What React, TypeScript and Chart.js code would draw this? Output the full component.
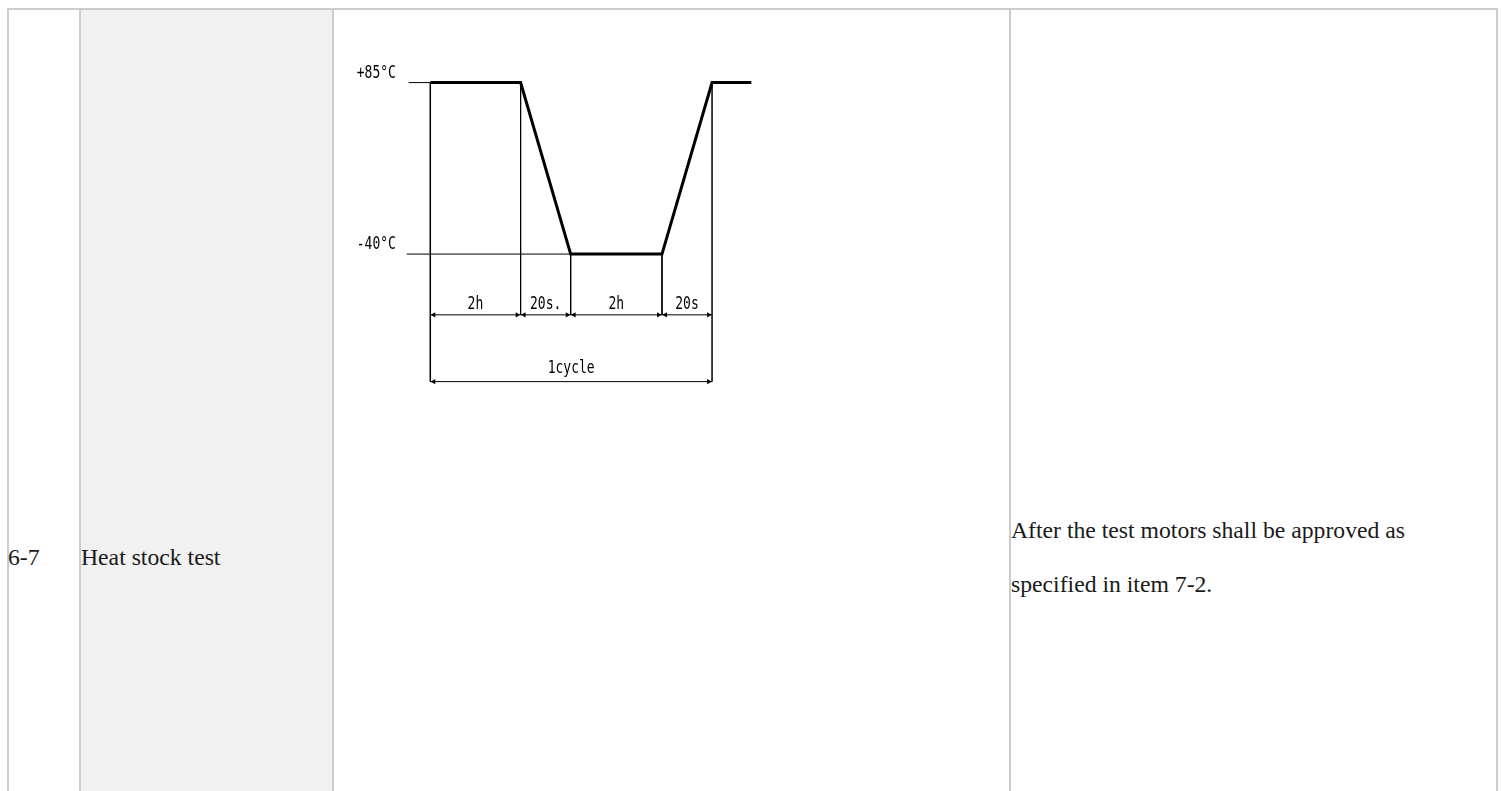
import React, { useEffect, useRef } from 'react';
import { Chart, registerables } from 'chart.js';

Chart.register(...registerables);

// ---- data ----
// x: position along the cycle (diagram units), temp: °C
const profileX = [0, 9.2, 14.3, 23.6, 28.7, 32.7];
const profileTemp = [85, 85, -40, -40, 85, 85];
const phaseBounds = [0, 9.2, 14.3, 23.6, 28.7];
const phaseLabels = ['2h', '20s.', '2h', '20s'];
const levelTemps = [85, -40];
const levelLabels = ['+85°C', '-40°C'];
const levelLineStart = [-2.2, -2.4];
const levelLineEnd = [0, 14.3];
const phaseDimTemp = -84.3;
const cycleDimTemp = -133;
const cycleLabel = '1cycle';

// table texts
const itemNo = '6-7';
const itemName = 'Heat stock test';
const judgementLines = ['After the test motors shall be approved as', 'specified in item 7-2.'];

const X_MIN = -9.4;
const X_MAX = 34.5;
const Y_MIN = -149.3;
const Y_MAX = 135;

function drawLabel(ctx: CanvasRenderingContext2D, text: string, px: number, py: number) {
  ctx.save();
  ctx.translate(px, py);
  ctx.scale(1, 1.3);
  ctx.fillText(text, 0, 0);
  ctx.restore();
}

const labelPlugin = {
  id: 'diagramLabels',
  afterDatasetsDraw(chart: any) {
    const { ctx } = chart;
    const sx = chart.scales.x;
    const sy = chart.scales.y;
    ctx.save();
    ctx.fillStyle = '#000';
    ctx.font = '13px "DejaVu Sans Mono", "Liberation Mono", monospace';
    ctx.textAlign = 'center';
    ctx.textBaseline = 'middle';
    levelTemps.forEach((t, i) => {
      drawLabel(ctx, levelLabels[i], sx.getPixelForValue(-5.5), sy.getPixelForValue(t) - 9);
    });
    phaseLabels.forEach((lab, i) => {
      const cx = (phaseBounds[i] + phaseBounds[i + 1]) / 2;
      drawLabel(ctx, lab, sx.getPixelForValue(cx), sy.getPixelForValue(phaseDimTemp) - 10);
    });
    const first = phaseBounds[0];
    const last = phaseBounds[phaseBounds.length - 1];
    drawLabel(ctx, cycleLabel, sx.getPixelForValue((first + last) / 2), sy.getPixelForValue(cycleDimTemp) - 13);
    ctx.restore();
  },
};

function buildDatasets() {
  const thin = { borderColor: '#000', borderWidth: 1, pointRadius: 0, fill: false, tension: 0 };
  const ds: any[] = [];
  // profile
  ds.push({
    ...thin,
    borderWidth: 3,
    data: profileX.map((x, i) => ({ x, y: profileTemp[i] })),
  });
  // level reference lines
  levelTemps.forEach((t, i) => {
    ds.push({ ...thin, data: [{ x: levelLineStart[i], y: t }, { x: levelLineEnd[i], y: t }] });
  });
  // vertical extension lines
  phaseBounds.forEach((b, i) => {
    const idx = profileX.indexOf(b);
    const top = profileTemp[idx];
    const outer = i === 0 || i === phaseBounds.length - 1;
    ds.push({
      ...thin,
      borderWidth: outer ? 1.5 : 1,
      data: [{ x: b, y: top }, { x: b, y: outer ? cycleDimTemp : phaseDimTemp }],
    });
  });
  // dimension lines
  const first = phaseBounds[0];
  const last = phaseBounds[phaseBounds.length - 1];
  ds.push({ ...thin, data: [{ x: first, y: phaseDimTemp }, { x: last, y: phaseDimTemp }] });
  ds.push({ ...thin, data: [{ x: first, y: cycleDimTemp }, { x: last, y: cycleDimTemp }] });
  // arrow heads
  const arrowPts: any[] = [];
  const rot: number[] = [];
  for (let i = 0; i < phaseBounds.length - 1; i++) {
    arrowPts.push({ x: phaseBounds[i] + 0.35, y: phaseDimTemp });
    rot.push(-90);
    arrowPts.push({ x: phaseBounds[i + 1] - 0.35, y: phaseDimTemp });
    rot.push(90);
  }
  arrowPts.push({ x: first + 0.35, y: cycleDimTemp });
  rot.push(-90);
  arrowPts.push({ x: last - 0.35, y: cycleDimTemp });
  rot.push(90);
  ds.push({
    data: arrowPts,
    showLine: false,
    pointStyle: 'triangle',
    pointRadius: 3,
    pointRotation: rot,
    pointBackgroundColor: '#000',
    pointBorderColor: '#000',
    pointBorderWidth: 0,
  });
  return ds;
}

function Diagram() {
  const ref = useRef<HTMLCanvasElement | null>(null);
  useEffect(() => {
    if (!ref.current) return;
    const chart = new Chart(ref.current, {
      type: 'line',
      data: { datasets: buildDatasets() },
      options: {
        responsive: false,
        maintainAspectRatio: false,
        animation: false,
        events: [],
        devicePixelRatio: 1,
        layout: { padding: 0 },
        plugins: { legend: { display: false }, tooltip: { enabled: false } },
        scales: {
          x: { type: 'linear', display: false, min: X_MIN, max: X_MAX },
          y: { type: 'linear', display: false, min: Y_MIN, max: Y_MAX },
        },
      },
      plugins: [labelPlugin],
    } as any);
    return () => chart.destroy();
  }, []);
  return <canvas ref={ref} width={439} height={398} style={{ display: 'block', width: 439, height: 398 }} />;
}

export default function App() {
  useEffect(() => {
    document.documentElement.style.overflow = 'hidden';
    document.body.style.overflow = 'hidden';
  }, []);
  const line = '#cccccc';
  const textStyle: React.CSSProperties = {
    position: 'absolute',
    fontFamily: '"Liberation Serif", "Times New Roman", serif',
    fontSize: '23.7px',
    color: '#1a1a1a',
    whiteSpace: 'nowrap',
  };
  return (
    <div>
      {/* grey item column */}
      <div style={{ position: 'absolute', left: 80, top: 9, width: 253, height: 782, background: '#f1f1f1' }} />
      {/* outer border */}
      <div style={{ position: 'absolute', left: 7, top: 8, width: 1491, height: 800, border: `2px solid ${line}`, boxSizing: 'border-box' }} />
      {/* column separators */}
      <div style={{ position: 'absolute', left: 79, top: 8, width: 2, height: 783, background: line }} />
      <div style={{ position: 'absolute', left: 332, top: 8, width: 2, height: 783, background: line }} />
      <div style={{ position: 'absolute', left: 1009, top: 8, width: 2, height: 783, background: line }} />
      {/* texts */}
      <div style={{ ...textStyle, left: 8, top: 544, lineHeight: '26px' }}>{itemNo}</div>
      <div style={{ ...textStyle, left: 81, top: 544, lineHeight: '26px' }}>{itemName}</div>
      <div style={{ ...textStyle, left: 1011, top: 503, lineHeight: '54px' }}>
        {judgementLines.map((t, i) => (
          <div key={i}>{t}</div>
        ))}
      </div>
      {/* diagram */}
      <div style={{ position: 'absolute', left: 334, top: 10, width: 439, height: 398, background: '#fff' }}>
        <Diagram />
      </div>
    </div>
  );
}
